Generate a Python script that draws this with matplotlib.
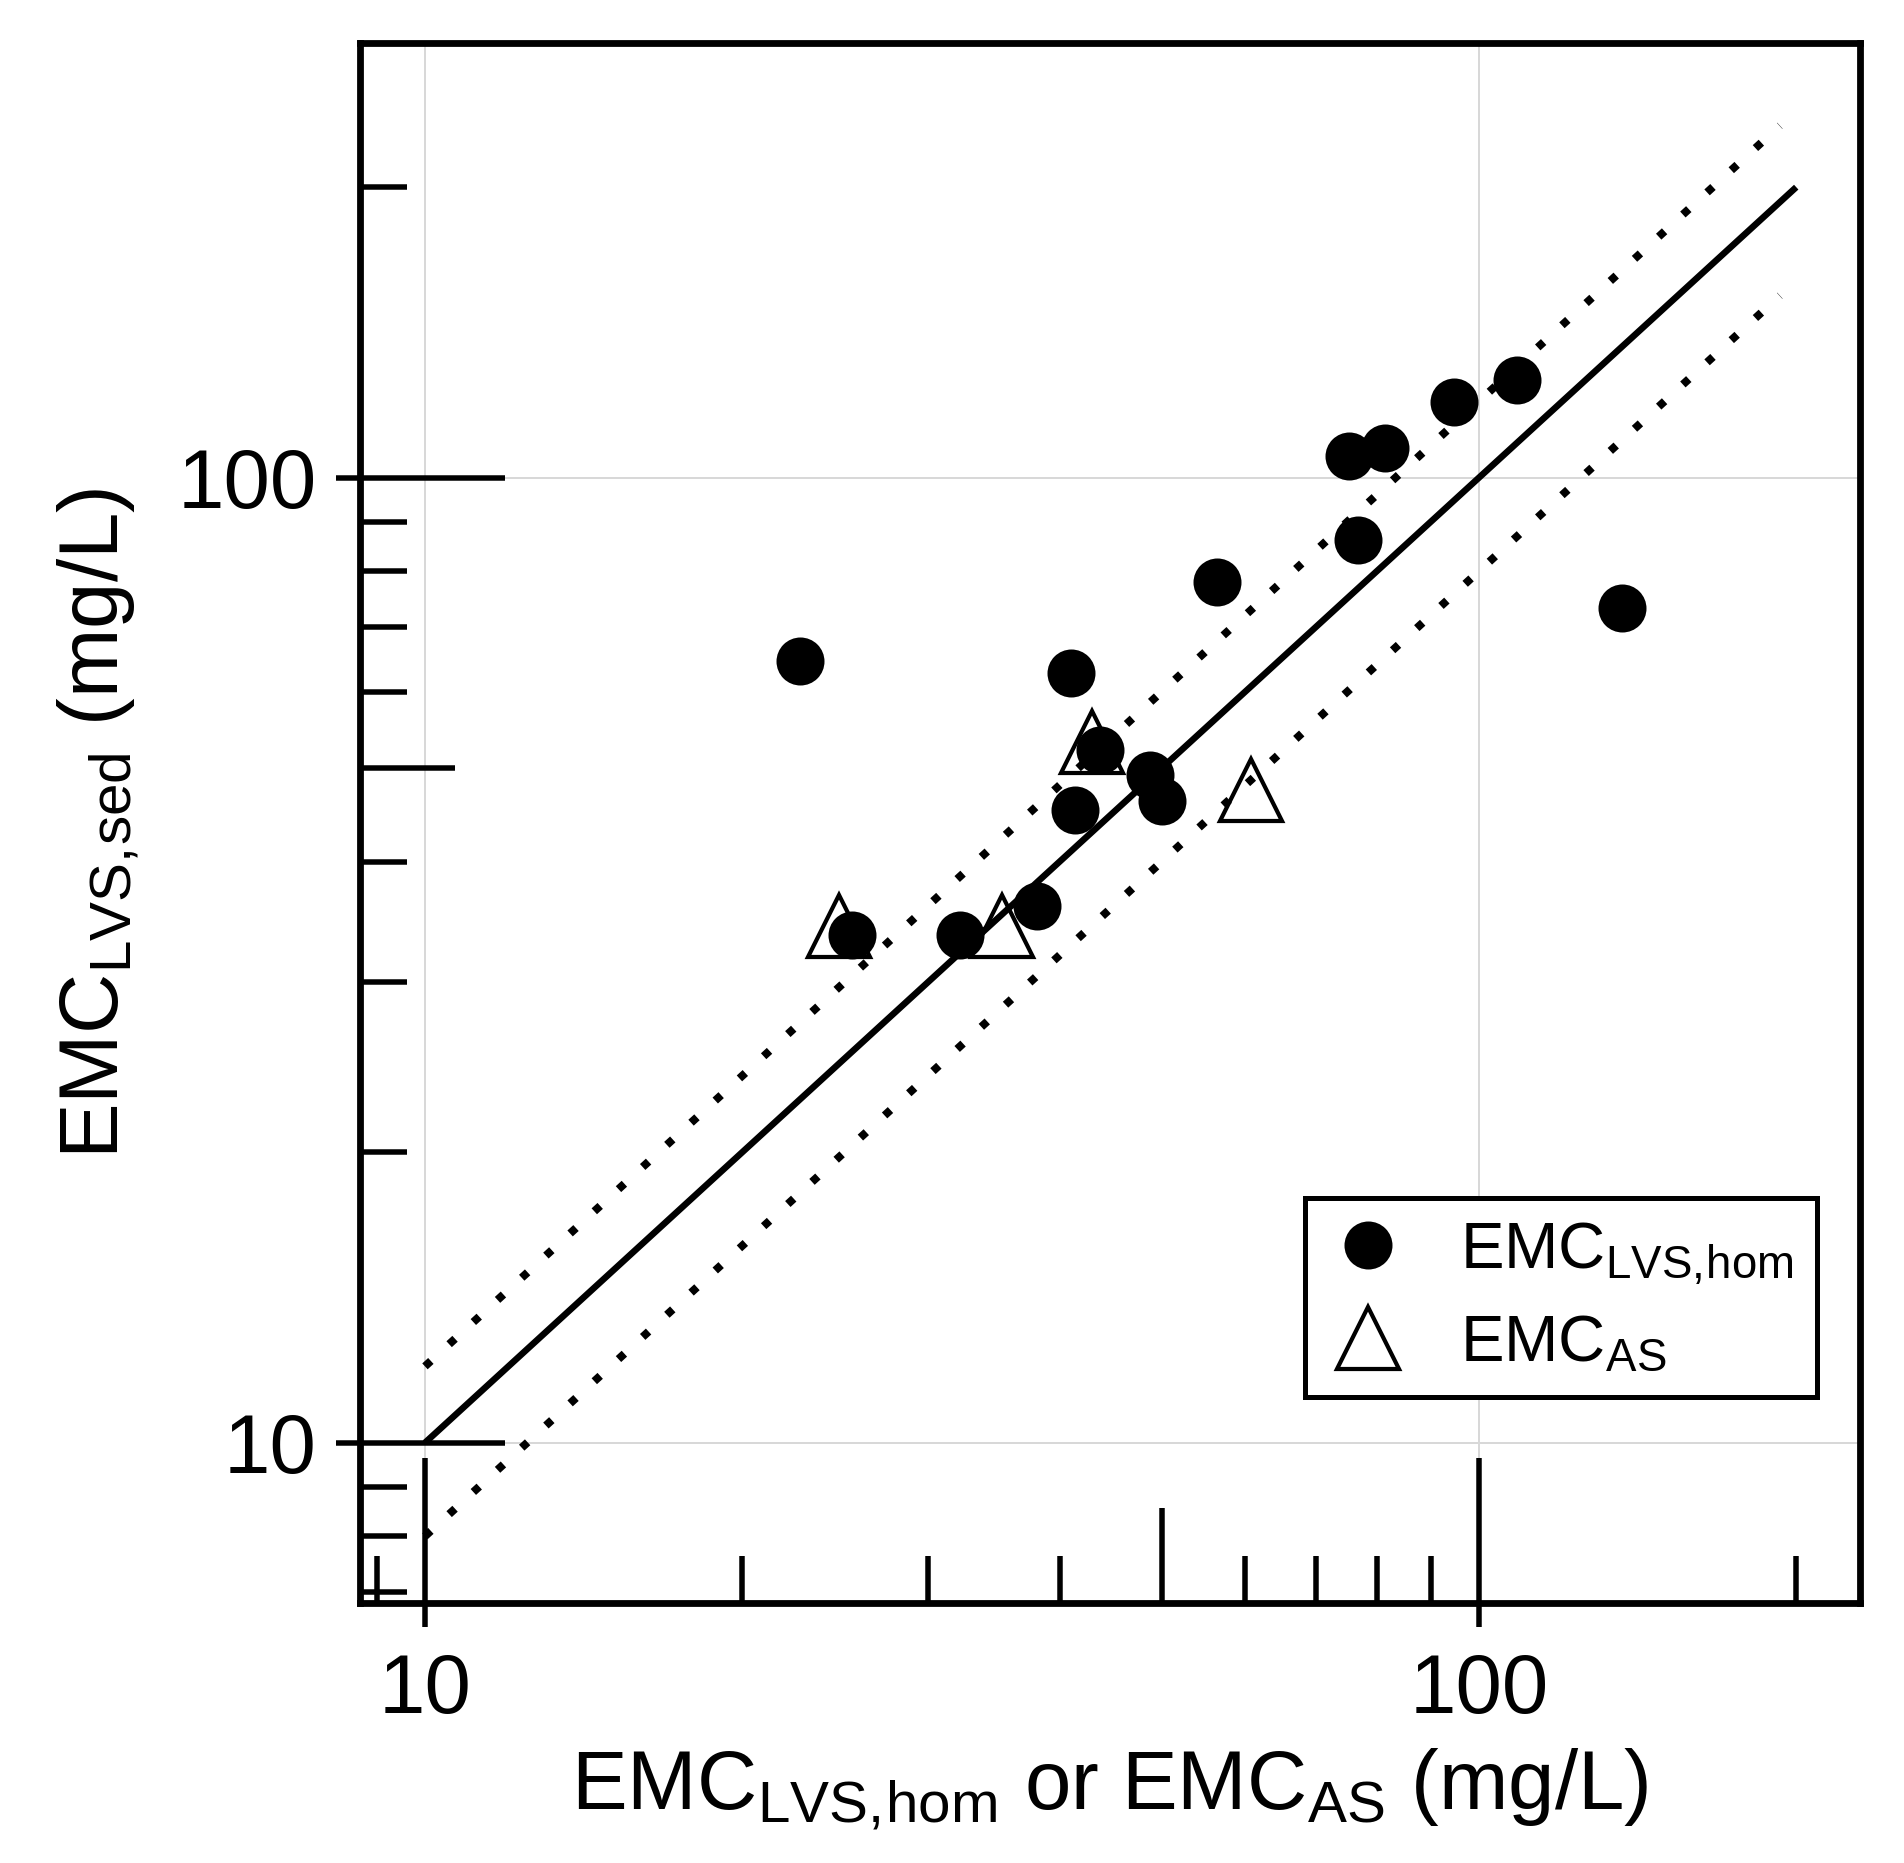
import matplotlib
matplotlib.use('Agg')
import matplotlib.pyplot as plt
from matplotlib.ticker import FixedLocator, NullFormatter
from matplotlib.path import Path

FONT = 'Liberation Sans'
plt.rcParams['font.family'] = [FONT, 'DejaVu Sans']
plt.rcParams['mathtext.fontset'] = 'custom'
plt.rcParams['mathtext.rm'] = FONT
plt.rcParams['mathtext.it'] = FONT + ':italic'
plt.rcParams['mathtext.bf'] = FONT + ':bold'

# ---------------- data ----------------
lvs_hom_x = [22.7, 25.4, 32.2, 38.1, 41.0, 41.4, 43.7, 48.7, 50.0, 56.4,
             75.3, 81.4, 76.7, 94.8, 108.7, 136.6]
lvs_hom_y = [64.6, 33.6, 33.6, 36.0, 62.8, 45.3, 52.2, 49.2, 46.2, 78.0,
             105.3, 107.3, 86.2, 119.9, 126.3, 73.2]
as_x = [24.7, 35.3, 42.9, 60.8]
as_y = [34.3, 34.3, 53.2, 47.5]

line_x = [10, 200]          # 1:1 line
band_x = [10, 193]          # +/-20 % lines
band_upper = 1.2
band_lower = 0.8

x_major = [10, 100]
x_major_labels = ['10', '100']
x_minor = [9, 20, 30, 40, 50, 60, 70, 80, 90, 200]
y_major = [10, 100]
y_major_labels = ['10', '100']
y_minor = [7, 8, 9, 20, 30, 40, 50, 60, 70, 80, 90, 200]
xlim = (8.677, 229.9)
ylim = (6.818, 281.9)

xlabel = r'EMC$_{\mathrm{LVS,\!hom}}$ or EMC$_{\mathrm{AS}}$ (mg/L)'
ylabel = r'EMC$_{\mathrm{LVS,\!sed}}$ (mg/L)'
leg_labels = [r'EMC$_{\mathrm{LVS,\!hom}}$', r'EMC$_{\mathrm{AS}}$']

# ---------------- figure ----------------
PX = 0.72  # points per pixel at dpi 100
fig = plt.figure(figsize=(19.04, 18.63), dpi=100)
ax = fig.add_axes([360 / 1904, 1 - 1603.3 / 1863, 1500 / 1904, 1560 / 1863])
ax.set_xscale('log')
ax.set_yscale('log')
ax.set_xlim(*xlim)
ax.set_ylim(*ylim)

ax.grid(True, which='major', color='#d8d8d8', linewidth=2 * PX)
ax.set_axisbelow(True)

# lines
ax.plot(line_x, line_x, color='black', lw=6.5 * PX, solid_capstyle='butt', zorder=2)
ax.plot(band_x, [v * band_upper for v in band_x], color='black', lw=8 * PX,
        linestyle=(0, (1, 3.1)), dash_capstyle='butt', zorder=2)
ax.plot(band_x, [v * band_lower for v in band_x], color='black', lw=8 * PX,
        linestyle=(0, (1, 3.1)), dash_capstyle='butt', zorder=2)

# points
h_as, = ax.plot(as_x, as_y, linestyle='none', marker='^', ms=62 * PX,
                mfc='none', mec='black', mew=4.2 * PX, zorder=3)
h_hom, = ax.plot(lvs_hom_x, lvs_hom_y, linestyle='none', marker='o', ms=48 * PX,
                 mfc='black', mec='black', mew=0, zorder=4)

# spines
for s in ax.spines.values():
    s.set_linewidth(6.8 * PX)
    s.set_color('black')

# ticks
ax.xaxis.set_major_locator(FixedLocator(x_major))
ax.xaxis.set_minor_locator(FixedLocator(x_minor))
ax.xaxis.set_minor_formatter(NullFormatter())
ax.set_xticks(x_major, labels=x_major_labels)
ax.yaxis.set_major_locator(FixedLocator(y_major))
ax.yaxis.set_minor_locator(FixedLocator(y_minor))
ax.yaxis.set_minor_formatter(NullFormatter())
ax.set_yticks(y_major, labels=y_major_labels)

ax.tick_params(which='both', direction='in', top=False, right=False,
               width=5.5 * PX, color='black')
ax.tick_params(which='major', length=145 * PX, labelsize=60)
ax.tick_params(which='minor', length=47 * PX)
ax.tick_params(axis='x', which='major', pad=35)
ax.tick_params(axis='y', which='major', pad=31)

stub = 24.0 / 145.0
xmark = Path([(0, -stub), (0, 1)], [Path.MOVETO, Path.LINETO])
ymark = Path([(-stub, 0), (1, 0)], [Path.MOVETO, Path.LINETO])
for t in ax.xaxis.get_major_ticks():
    t.tick1line.set_marker(xmark)
    t.tick1line.set_markersize(2 * 145 * PX)
for t in ax.yaxis.get_major_ticks():
    t.tick1line.set_marker(ymark)
    t.tick1line.set_markersize(2 * 145 * PX)
for axis, locs in ((ax.xaxis, x_minor), (ax.yaxis, y_minor)):
    for t, loc in zip(axis.get_minor_ticks(len(locs)), locs):
        if loc == 50:
            t.tick1line.set_markersize(95 * PX)

# labels
ax.set_xlabel(xlabel, fontsize=60)
ax.xaxis.set_label_coords(0.5, -0.092)
ax.set_ylabel(ylabel, fontsize=60)
ax.yaxis.set_label_coords(-0.146, 0.5)

# legend
leg = ax.legend([h_hom, h_as], leg_labels, loc='lower right',
                bbox_to_anchor=(0.971, 0.1324), borderaxespad=0,
                fontsize=47, handlelength=1.25, handletextpad=0.78,
                borderpad=0.35, labelspacing=0.42, fancybox=False,
                edgecolor='black', framealpha=1)
leg.get_frame().set_linewidth(5 * PX)

fig.savefig('out.png', dpi=100, facecolor='white')
